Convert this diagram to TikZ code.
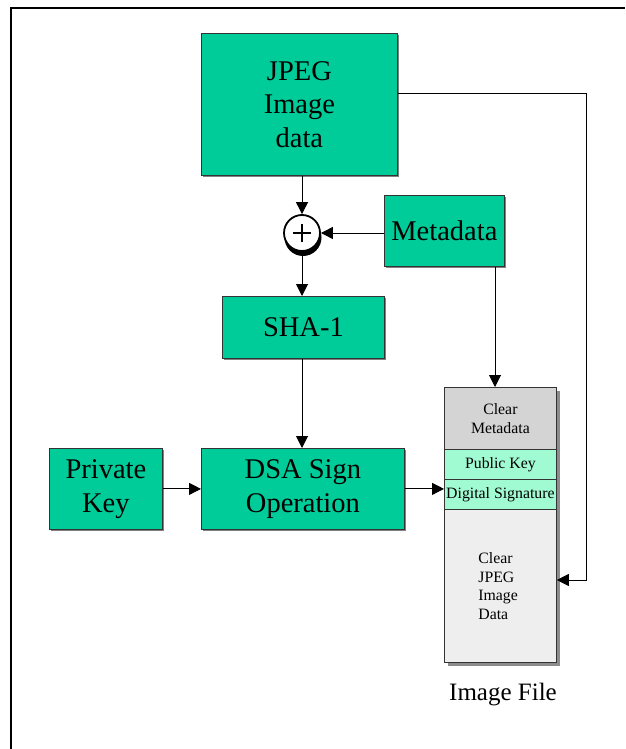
\documentclass[tikz,border=0pt]{standalone}
\usepackage{fontspec}
\setmainfont{Liberation Serif}
\usetikzlibrary{arrows.meta,shadows,calc}
\definecolor{boxgreen}{RGB}{0,204,153}
\definecolor{lightmint}{RGB}{160,250,210}
\definecolor{cmgray}{RGB}{212,212,212}
\definecolor{cjgray}{RGB}{238,238,238}
\begin{document}
\begin{tikzpicture}[x=1pt,y=-1pt,
  box/.style={draw=black!80, line width=0.8pt, fill=boxgreen, anchor=north west, inner sep=0pt, align=center,
    font=\fontsize{28.5}{33.5}\selectfont,
    drop shadow={shadow xshift=1.5pt, shadow yshift=-1.5pt, fill=black!50, opacity=1}},
  cell/.style={draw=black!80, line width=0.8pt, anchor=north west, inner xsep=0.5pt, inner ysep=1pt,
    minimum width=112pt, align=center, font=\fontsize{15.8}{18.5}\selectfont},
  arr/.style={line width=1pt, -{Triangle[length=12pt,width=12pt]}},
]
\useasboundingbox (0,0) rectangle (625,749);
% frame
\draw[line width=1.5pt] (11,749) -- (11,8) -- (625,8);

% green boxes
\node[box, minimum width=196pt, minimum height=142pt] (jpeg) at (201,33) {JPEG\\Image\\data};
\node[box, minimum width=120pt, minimum height=71pt] (meta) at (384,195) {Metadata};
\node[box, minimum width=162pt, minimum height=62pt] (sha) at (222,296) {SHA-1};
\node[box, minimum width=113pt, minimum height=81pt] (priv) at (49,448) {Private\\Key};
\node[box, minimum width=203pt, minimum height=81pt] (dsa) at (201,448) {DSA Sign\\Operation};

% image file column
\fill[black!45] (447.5,390.5) rectangle (559.5,665.5);
\node[cell, fill=cmgray, minimum height=62pt] (cm) at (444,387) {Clear\\Metadata};
\node[cell, fill=lightmint, minimum height=30pt] (pk) at (444,449) {Public Key};
\node[cell, fill=lightmint, minimum height=30pt] (ds) at (444,479) {Digital Signature};
\node[cell, fill=cjgray, minimum height=153pt, align=left, text width=44pt, inner xsep=34pt] (cj) at (444,509) {Clear\\JPEG\\Image\\Data};
\node[font=\fontsize{25}{30}\selectfont] (lbl) at (503,695) {Image File};

% xor circle
\fill[black] (303,237.5) circle (18.5pt);
\node[circle, draw, line width=1.8pt, fill=white, minimum size=36pt, inner sep=0pt] (plus) at (302,233) {};
\draw[line width=2.8pt] ($(plus)+(-9,0)$) -- ($(plus)+(9,0)$);
\draw[line width=2.8pt] ($(plus)+(0,-9)$) -- ($(plus)+(0,9)$);

% connectors
\draw[arr] (jpeg.south -| plus) -- (plus.north);
\draw[arr] (meta.west |- plus) -- (plus.east);
\draw[arr] (plus.south) -- (plus.south |- sha.north);
\draw[arr] (sha.south -| plus) -- (dsa.north -| plus);
\draw[arr] (priv.east) -- (dsa.west);
\draw[arr] (dsa.east) -- (dsa.east -| ds.west);
\coordinate (mdrop) at (495,266);
\draw[arr] (meta.south -| mdrop) -- (cm.north -| mdrop);
\coordinate (r1) at (586,94);
\coordinate (r2) at (586,580);
\draw[arr] (jpeg.east |- r1) -- (r1) -- (r2) -- (r2 -| cj.east);
\end{tikzpicture}
\end{document}
